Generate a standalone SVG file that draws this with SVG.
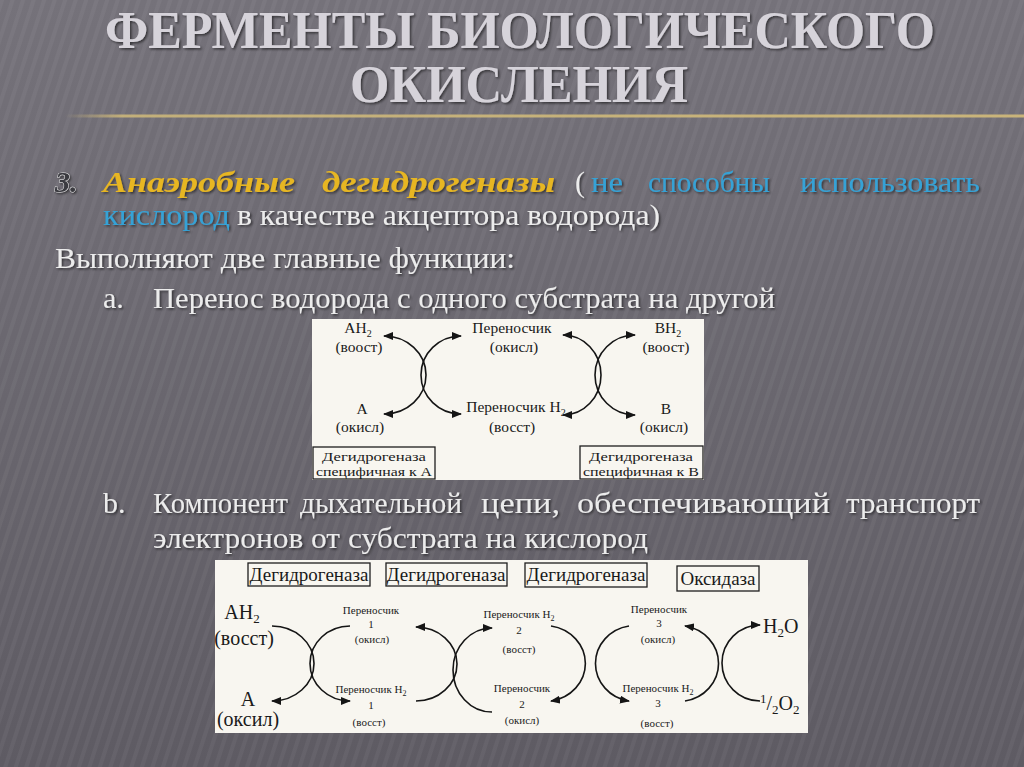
<svg xmlns="http://www.w3.org/2000/svg" width="1024" height="767" viewBox="0 0 1024 767">
<defs>
  <linearGradient id="bg" x1="0" y1="0" x2="0" y2="1">
    <stop offset="0" stop-color="#75727a"/>
    <stop offset="1" stop-color="#5e5b63"/>
  </linearGradient>
  <pattern id="stripes" width="10" height="10" patternUnits="userSpaceOnUse" patternTransform="rotate(18)">
    <rect width="4" height="10" fill="#ffffff" opacity="0.045"/>
  </pattern>
  <linearGradient id="gold" x1="0" y1="0" x2="1" y2="0">
    <stop offset="0" stop-color="#cbb67a" stop-opacity="0"/>
    <stop offset="0.06" stop-color="#cbb67a" stop-opacity="0.9"/>
    <stop offset="1" stop-color="#c9b47a"/>
  </linearGradient>
  <marker id="ah" viewBox="0 0 10 8" refX="9" refY="4" markerWidth="10" markerHeight="8" markerUnits="userSpaceOnUse" orient="auto-start-reverse">
    <path d="M0,0 L10,4 L0,8 z" fill="#151515"/>
  </marker>
  <filter id="sh" x="-5%" y="-20%" width="110%" height="150%">
    <feDropShadow dx="1.5" dy="1.5" stdDeviation="1" flood-color="#000" flood-opacity="0.55"/>
  </filter>
  <style>
    .title{font-family:"Liberation Serif","DejaVu Serif",serif;font-weight:bold;font-size:53px;fill:#d6d3da}
    .body{font-family:"Liberation Serif","DejaVu Serif",serif;font-size:30px;fill:#ececec}
    .gold{font-family:"Liberation Serif","DejaVu Serif",serif;font-size:30px;font-weight:bold;font-style:italic;fill:#e7b623}
    .blue{font-family:"Liberation Serif","DejaVu Serif",serif;font-size:30px;fill:#36a2d6}
    .d1{font-family:"Liberation Serif","DejaVu Serif",serif;font-size:15.5px;fill:#1a1a1a;text-anchor:middle}
    .d1b{font-family:"Liberation Serif","DejaVu Serif",serif;font-size:12.5px;fill:#1a1a1a;text-anchor:middle}
    .d2s{font-family:"Liberation Serif","DejaVu Serif",serif;font-size:11px;fill:#1a1a1a;text-anchor:middle}
    .d2b{font-family:"Liberation Serif","DejaVu Serif",serif;font-size:20px;fill:#1a1a1a;text-anchor:middle}
    .d2box{font-family:"Liberation Serif","DejaVu Serif",serif;font-size:19px;fill:#1a1a1a;text-anchor:middle}
    .panel{fill:#f8f6f0}
    .box{fill:#f8f6f0;stroke:#1e1e1e;stroke-width:1.3}
    .arc{fill:none;stroke:#151515;stroke-width:1.6}
  </style>
</defs>

<rect width="1024" height="767" fill="url(#bg)"/>
<rect width="1024" height="767" fill="url(#stripes)"/>

<g id="title" filter="url(#sh)">
  <text class="title" x="105" y="48" textLength="830" lengthAdjust="spacingAndGlyphs">ФЕРМЕНТЫ БИОЛОГИЧЕСКОГО</text>
  <text class="title" x="350" y="102" textLength="338" lengthAdjust="spacingAndGlyphs">ОКИСЛЕНИЯ</text>
</g>
<rect x="65" y="114.5" width="959" height="3" fill="url(#gold)"/>

<g id="text-body" filter="url(#sh)">
  <text x="55" y="192" font-family="Liberation Serif, serif" font-size="30" font-weight="bold" font-style="italic" fill="#3a3a40" stroke="#e6e6e6" stroke-width="0.9" paint-order="stroke">3.</text>
  <text class="gold" x="103" y="192" textLength="192" lengthAdjust="spacingAndGlyphs">Анаэробные</text>
  <text class="gold" x="322" y="192" textLength="233" lengthAdjust="spacingAndGlyphs">дегидрогеназы</text>
  <text class="body" x="575" y="192">(</text>
  <text class="blue" x="591" y="192" textLength="32" lengthAdjust="spacingAndGlyphs">не</text>
  <text class="blue" x="648" y="192" textLength="122" lengthAdjust="spacingAndGlyphs">способны</text>
  <text class="blue" x="800" y="192" textLength="180" lengthAdjust="spacingAndGlyphs">использовать</text>
  <text class="blue" x="103" y="225" textLength="127" lengthAdjust="spacingAndGlyphs">кислород</text>
  <text class="body" x="237" y="225" textLength="423" lengthAdjust="spacingAndGlyphs">в качестве акцептора водорода)</text>
  <text class="body" x="55" y="268" textLength="460" lengthAdjust="spacingAndGlyphs">Выполняют две главные функции:</text>
  <text class="body" x="103" y="308">a.</text>
  <text class="body" x="153" y="308" textLength="622" lengthAdjust="spacingAndGlyphs">Перенос водорода с одного субстрата на другой</text>
  <text class="body" x="103" y="513">b.</text>
  <text class="body" x="153" y="513" textLength="135" lengthAdjust="spacingAndGlyphs">Компонент</text>
  <text class="body" x="300" y="513" textLength="162" lengthAdjust="spacingAndGlyphs">дыхательной</text>
  <text class="body" x="481" y="513" textLength="79" lengthAdjust="spacingAndGlyphs">цепи,</text>
  <text class="body" x="577" y="513" textLength="253" lengthAdjust="spacingAndGlyphs">обеспечивающий</text>
  <text class="body" x="846" y="513" textLength="134" lengthAdjust="spacingAndGlyphs">транспорт</text>
  <text class="body" x="153" y="548" textLength="495" lengthAdjust="spacingAndGlyphs">электронов от субстрата на кислород</text>
</g>

<!-- Diagram 1 -->
<rect class="panel" x="312" y="319" width="392" height="161"/>
<g id="d1-AH2"><text class="d1" x="358" y="333">AH<tspan font-size="10" dy="4">2</tspan></text><text class="d1" x="359" y="352">(воост)</text></g>
<g id="d1-carrier-ox"><text class="d1" x="512" y="333">Переносчик</text><text class="d1" x="514" y="352">(окисл)</text></g>
<g id="d1-BH2"><text class="d1" x="668" y="333">BH<tspan font-size="10" dy="4">2</tspan></text><text class="d1" x="666" y="352">(воост)</text></g>
<g id="d1-A"><text class="d1" x="362" y="414">A</text><text class="d1" x="360" y="432">(окисл)</text></g>
<g id="d1-carrier-red"><text class="d1" x="516" y="412">Переносчик H<tspan font-size="10" dy="4">2</tspan></text><text class="d1" x="512" y="432">(восст)</text></g>
<g id="d1-B"><text class="d1" x="666" y="414">B</text><text class="d1" x="664" y="432">(окисл)</text></g>
<g id="d1-dehA"><rect class="box" x="313" y="447" width="122" height="32"/><text class="d1b" x="374" y="461" textLength="104" lengthAdjust="spacingAndGlyphs">Дегидрогеназа</text><text class="d1b" x="374" y="476" textLength="116" lengthAdjust="spacingAndGlyphs">специфичная к А</text></g>
<g id="d1-dehB"><rect class="box" x="580" y="446" width="123" height="33"/><text class="d1b" x="641" y="461" textLength="104" lengthAdjust="spacingAndGlyphs">Дегидрогеназа</text><text class="d1b" x="641" y="476" textLength="116" lengthAdjust="spacingAndGlyphs">специфичная к В</text></g>

<!-- Diagram 2 -->
<rect class="panel" x="215" y="560" width="593" height="173"/>
<g id="d2-deh1"><rect class="box" x="248" y="563" width="122" height="23"/><text class="d2box" x="309" y="581">Дегидрогеназа</text></g>
<g id="d2-deh2"><rect class="box" x="386" y="563" width="121" height="23"/><text class="d2box" x="446" y="581">Дегидрогеназа</text></g>
<g id="d2-deh3"><rect class="box" x="525" y="563" width="122" height="24"/><text class="d2box" x="586" y="581">Дегидрогеназа</text></g>
<g id="d2-oxidase"><rect class="box" x="677" y="566" width="82" height="25"/><text class="d2box" x="718" y="585">Оксидаза</text></g>
<g id="d2-AH2"><text class="d2b" x="242" y="619">AH<tspan font-size="13" dy="4">2</tspan></text><text class="d2b" x="244" y="645">(восст)</text></g>
<g id="d2-A"><text class="d2b" x="248" y="706">A</text><text class="d2b" x="248" y="726">(оксил)</text></g>
<g id="d2-c1ox"><text class="d2s" x="371" y="614">Переносчик</text><text class="d2s" x="371" y="628">1</text><text class="d2s" x="372" y="643">(окисл)</text></g>
<g id="d2-c1red"><text class="d2s" x="371" y="693">Переносчик H<tspan font-size="8" dy="3">2</tspan></text><text class="d2s" x="371" y="709">1</text><text class="d2s" x="369" y="726">(восст)</text></g>
<g id="d2-c2red"><text class="d2s" x="519" y="618">Переносчик H<tspan font-size="8" dy="3">2</tspan></text><text class="d2s" x="519" y="634">2</text><text class="d2s" x="519" y="653">(восст)</text></g>
<g id="d2-c2ox"><text class="d2s" x="522" y="692">Переносчик</text><text class="d2s" x="522" y="708">2</text><text class="d2s" x="522" y="724">(окисл)</text></g>
<g id="d2-c3ox"><text class="d2s" x="659" y="613">Переносчик</text><text class="d2s" x="659" y="627">3</text><text class="d2s" x="658" y="643">(окисл)</text></g>
<g id="d2-c3red"><text class="d2s" x="658" y="692">Переносчик H<tspan font-size="8" dy="3">2</tspan></text><text class="d2s" x="658" y="707">3</text><text class="d2s" x="657" y="727">(восст)</text></g>
<g id="d2-H2O"><text class="d2b" x="763" y="633" style="text-anchor:start">H<tspan font-size="13" dy="4">2</tspan><tspan dy="-4">O</tspan></text></g>
<g id="d2-O2"><text class="d2b" x="760" y="710" style="text-anchor:start"><tspan font-size="13" dy="-7">1</tspan><tspan dy="7">/</tspan><tspan font-size="13" dy="4">2</tspan><tspan dy="-4">O</tspan><tspan font-size="13" dy="4">2</tspan></text></g>

<g id="connectors">
  <path class="arc" d="M384,336 A42,39 0 0 1 384,414" marker-start="url(#ah)" marker-end="url(#ah)"/>
  <path class="arc" d="M461,336 A40,39 0 0 0 461,414" marker-start="url(#ah)" marker-end="url(#ah)"/>
  <path class="arc" d="M563,335 A38,40 0 0 1 563,415" marker-start="url(#ah)" marker-end="url(#ah)"/>
  <path class="arc" d="M635,335 A40,40 0 0 0 635,415" marker-start="url(#ah)" marker-end="url(#ah)"/>

  <path class="arc" d="M272,626 A42,37.5 0 0 1 272,701" marker-end="url(#ah)"/>
  <path class="arc" d="M350,626 A40,37.5 0 0 0 350,701" marker-end="url(#ah)"/>
  <path class="arc" d="M416,701 A41,37 0 0 0 416,627" marker-end="url(#ah)"/>
  <path class="arc" d="M492,712 A39,42 0 0 1 492,628" marker-end="url(#ah)"/>
  <path class="arc" d="M551,626 A41,38 0 0 1 551,701" marker-end="url(#ah)"/>
  <path class="arc" d="M629,626 A40,38 0 0 0 629,701" marker-end="url(#ah)"/>
  <path class="arc" d="M685,701 A40,38 0 0 0 685,626" marker-end="url(#ah)"/>
  <path class="arc" d="M760,701 A38,38 0 0 1 760,625" marker-end="url(#ah)"/>
</g>
</svg>
